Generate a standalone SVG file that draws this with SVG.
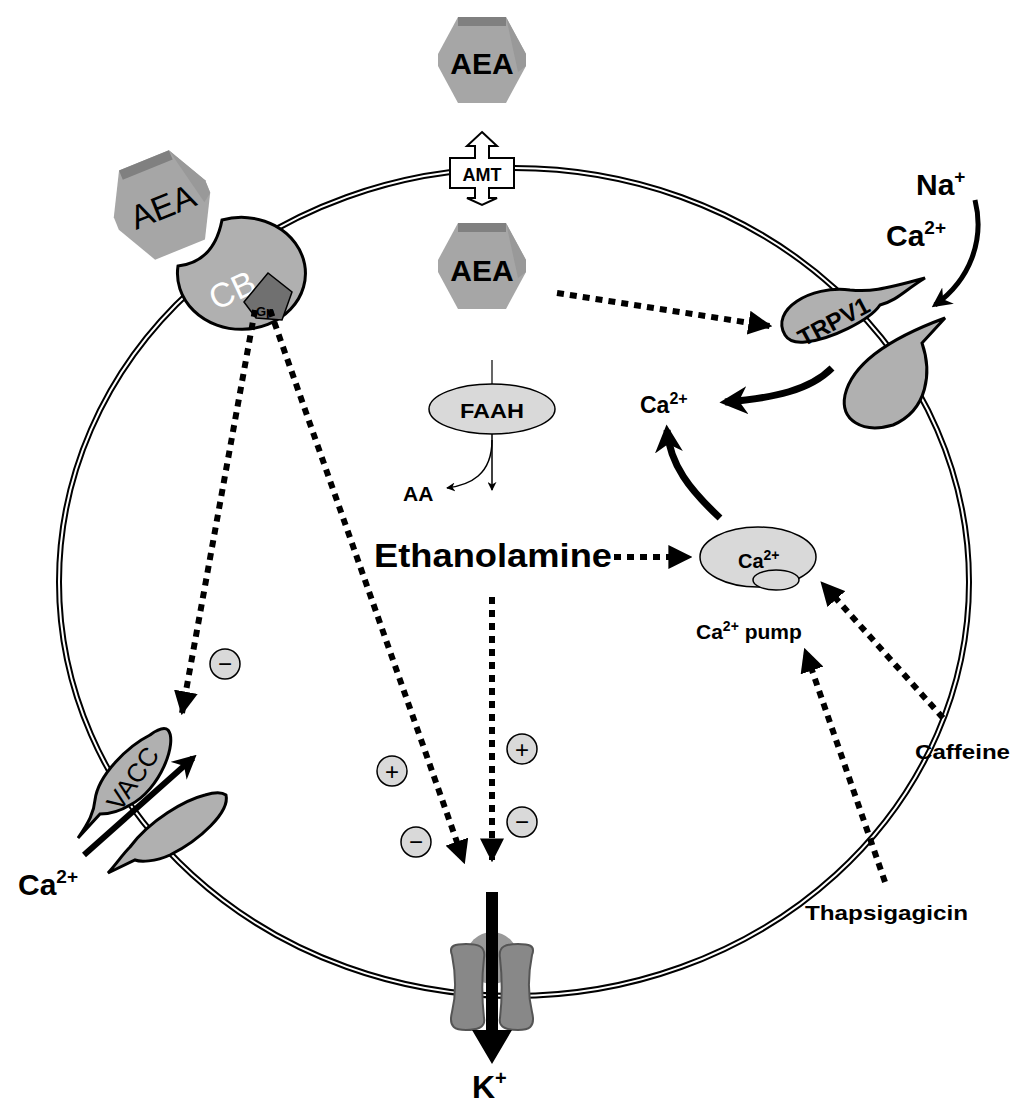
<svg xmlns="http://www.w3.org/2000/svg" width="1024" height="1120" viewBox="0 0 1024 1120">
<defs>
<style>
text{font-family:"Liberation Sans",Arial,sans-serif;font-weight:bold;fill:#000}
.dot{fill:none;stroke:#000;stroke-width:6;stroke-dasharray:7 6}
.prot{fill:#b0b0b0;stroke:#000;stroke-width:3}
.sign{fill:#d9d9d9;stroke:#000;stroke-width:1.5}
.n{font-weight:normal}
</style>
<marker id="ah" viewBox="0 0 10 10" refX="9" refY="5" markerWidth="4" markerHeight="4" orient="auto"><path d="M0,0 L10,5 L0,10 Z" fill="#000"/></marker>
<marker id="ahs" viewBox="0 0 10 10" refX="9" refY="5" markerWidth="9" markerHeight="9" orient="auto" markerUnits="userSpaceOnUse"><path d="M0,0 L10,5 L0,10 L3,5 Z" fill="#000"/></marker>
<marker id="ahb" viewBox="0 0 10 10" refX="8" refY="5" markerWidth="4" markerHeight="4" orient="auto"><path d="M0,0 L10,5 L0,10 L3,5 Z" fill="#000"/></marker>
<g id="hex">
<polygon points="-24,-43 24,-43 44,-6 44,6 24,43 -24,43 -44,6 -44,-6" fill="#a6a6a6"/>
<polygon points="-24,-43 24,-43 24,-34 -24,-34" fill="#808080"/>
<polygon points="24,-43 44,-6 44,6 36,12" fill="#999"/>
</g>
</defs>
<rect width="1024" height="1120" fill="#fff"/>
<g id="membrane">
<ellipse cx="514" cy="582" rx="455" ry="414" fill="none" stroke="#000" stroke-width="6"/>
<ellipse cx="514" cy="582" rx="455" ry="414" fill="none" stroke="#fff" stroke-width="2"/>
</g>
<g id="aea-out"><use href="#hex" x="482" y="60"/><text x="482" y="74" font-size="30" text-anchor="middle">AEA</text></g>
<g id="amt">
<path d="M482,132 L497,146 L489,146 L489,158 L514,158 L514,188 L489,188 L489,198 L497,198 L482,205 L467,198 L475,198 L475,188 L450,188 L450,158 L475,158 L475,146 L467,146 Z" fill="#fff" stroke="#000" stroke-width="2"/>
<text x="482" y="181" font-size="18" text-anchor="middle">AMT</text>
</g>
<g id="aea-in"><use href="#hex" x="482" y="266"/><text x="482" y="281" font-size="30" text-anchor="middle">AEA</text></g>
<g id="cb">
<g transform="translate(162,205) rotate(-22) scale(1.12)"><use href="#hex"/><text x="0" y="12" font-size="30" class="n" text-anchor="middle">AEA</text></g>
<path d="M222,220 A64,56 0 1 1 178,266 Q214,262 222,220 Z" class="prot"/>
<text x="232" y="302" font-size="34" class="n" style="fill:#fff" transform="rotate(-25 232 290)" text-anchor="middle">CB</text>
<polygon points="244,302 268,273 292,292 282,320 256,318" fill="#707070" stroke="#000" stroke-width="1.5"/>
<text x="256" y="316" font-size="13">Gp</text>
</g>
<g id="trpv1">
<path d="M785,335 C770,310 810,285 850,290 C870,292 880,290 925,278 C905,290 898,300 880,305 C870,320 830,340 805,342 C795,343 788,340 785,335 Z" class="prot"/>
<text x="833" y="330" font-size="24" transform="rotate(-28 833 320)" text-anchor="middle">TRPV1</text>
<path d="M945,318 L922,343 C932,372 928,410 893,425 C862,434 840,420 845,395 C852,365 885,340 945,318 Z" class="prot"/>
</g>
<g id="vacc">
<path d="M168,730 C178,742 160,790 130,805 C117,813 107,814 100,814 L78,838 C89,822 94,812 95,800 C98,775 128,746 150,735 C158,729 165,727 168,730 Z" class="prot"/>
<text x="132" y="788" font-size="26" class="n" transform="rotate(-55 132 778)" text-anchor="middle">VACC</text>
<path d="M226,795 C230,812 200,840 170,855 C155,862 140,862 135,860 L108,873 C118,862 122,855 130,847 C150,820 185,800 205,795 C215,792 222,792 226,795 Z" class="prot"/>
</g>
<g id="k-channel">
<circle cx="492" cy="958" r="26" fill="#999"/>
<path d="M452,955 C448,945 456,944 466,944 C478,944 486,946 484,958 C482,975 482,1000 484,1018 C486,1028 476,1030 466,1030 C456,1030 448,1028 452,1012 C456,995 456,975 452,955 Z" fill="#888" stroke="#555" stroke-width="2"/>
<path d="M532,955 C536,945 528,944 518,944 C506,944 498,946 500,958 C502,975 502,1000 500,1018 C498,1028 508,1030 518,1030 C528,1030 536,1028 532,1012 C528,995 528,975 532,955 Z" fill="#888" stroke="#555" stroke-width="2"/>
</g>
<g id="faah"><ellipse cx="492" cy="409" rx="63" ry="25" fill="#d9d9d9" stroke="#000" stroke-width="1.5"/><text x="492" y="418" font-size="21" text-anchor="middle" textLength="64" lengthAdjust="spacingAndGlyphs">FAAH</text></g>
<g id="store">
<ellipse cx="758" cy="557" rx="58" ry="30" fill="#d9d9d9" stroke="#000" stroke-width="1.5"/>
<ellipse cx="776" cy="580" rx="23" ry="10" fill="#d9d9d9" stroke="#000" stroke-width="1.5"/>
<text x="738" y="568" font-size="20">Ca<tspan dy="-8" font-size="14">2+</tspan></text>
</g>
<g id="labels">
<text x="916" y="195" font-size="30">Na<tspan dy="-12" font-size="19">+</tspan></text>
<text x="886" y="246" font-size="30">Ca<tspan dy="-12" font-size="19">2+</tspan></text>
<text x="640" y="413" font-size="23">Ca<tspan dy="-9" font-size="16">2+</tspan></text>
<text x="403" y="501" font-size="21">AA</text>
<text x="374" y="567" font-size="33" textLength="238" lengthAdjust="spacingAndGlyphs">Ethanolamine</text>
<text x="696" y="639" font-size="21">Ca<tspan dy="-8" font-size="14">2+</tspan><tspan dy="8"> pump</tspan></text>
<text x="915" y="759" font-size="21" textLength="95" lengthAdjust="spacingAndGlyphs">Caffeine</text>
<text x="805" y="920" font-size="21" textLength="163" lengthAdjust="spacingAndGlyphs">Thapsigagicin</text>
<text x="18" y="895" font-size="30">Ca<tspan dy="-12" font-size="19">2+</tspan></text>
<text x="472" y="1098" font-size="32">K<tspan dy="-13" font-size="20">+</tspan></text>
</g>
<g id="signs">
<circle cx="225" cy="664" r="15" class="sign"/><text x="225" y="672" font-size="24" class="n" text-anchor="middle">−</text>
<circle cx="392" cy="771" r="15" class="sign"/><text x="392" y="780" font-size="24" class="n" text-anchor="middle">+</text>
<circle cx="416" cy="842" r="15" class="sign"/><text x="416" y="850" font-size="24" class="n" text-anchor="middle">−</text>
<circle cx="522" cy="749" r="15" class="sign"/><text x="522" y="758" font-size="24" class="n" text-anchor="middle">+</text>
<circle cx="522" cy="822" r="15" class="sign"/><text x="522" y="830" font-size="24" class="n" text-anchor="middle">−</text>
</g>
<g id="connectors">
<path class="dot" d="M557,293 L770,326" marker-end="url(#ah)"/>
<path class="dot" d="M255,310 L182,713" marker-end="url(#ah)"/>
<path class="dot" d="M270,310 L464,862" marker-end="url(#ah)"/>
<path class="dot" d="M492,597 L492,860" marker-end="url(#ah)"/>
<path class="dot" d="M614,557 L690,557" marker-end="url(#ah)"/>
<path class="dot" d="M943,718 L822,583" marker-end="url(#ah)"/>
<path class="dot" d="M885,882 L805,650" marker-end="url(#ah)"/>
<path d="M492,360 L492,384" stroke="#000" stroke-width="1.2"/>
<path d="M492,434 L492,490" stroke="#000" stroke-width="1.5" marker-end="url(#ahs)"/>
<path d="M492,440 C492,475 470,485 447,488" fill="none" stroke="#000" stroke-width="1.5" marker-end="url(#ahs)"/>
<path d="M832,368 C810,390 775,398 725,402" fill="none" stroke="#000" stroke-width="7" marker-end="url(#ahb)"/>
<path d="M720,518 C690,490 670,465 667,430" fill="none" stroke="#000" stroke-width="7" marker-end="url(#ahb)"/>
<path d="M975,200 C985,240 970,280 935,305" fill="none" stroke="#000" stroke-width="5" marker-end="url(#ahb)"/>
<path d="M84,855 L193,758" stroke="#000" stroke-width="6" marker-end="url(#ahb)"/>
<path d="M486,892 L498,892 L498,1030 L512,1030 L492,1064 L472,1030 L486,1030 Z" fill="#000"/>
</g>
</svg>
